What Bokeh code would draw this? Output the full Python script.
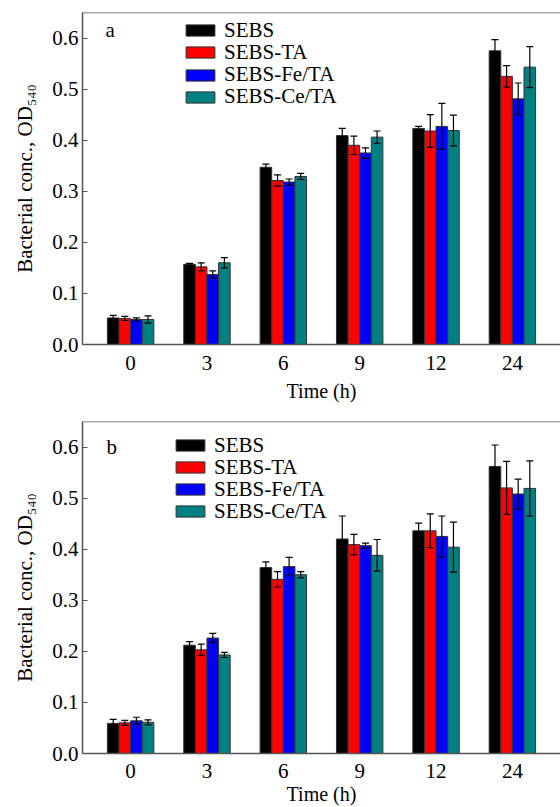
from bokeh.plotting import figure
from bokeh.models import (ColumnDataSource, FactorRange, Whisker, TeeHead, Legend,
                          LegendItem, Label, FixedTicker, PrintfTickFormatter, Range1d, Span)
from bokeh.transform import dodge
from bokeh.layouts import column
from bokeh.embed import file_html
from bokeh.resources import INLINE

# ---------------- data ----------------
times = ["0", "3", "6", "9", "12", "24"]
series = ["SEBS", "SEBS-TA", "SEBS-Fe/TA", "SEBS-Ce/TA"]
colors = ["#000000", "#ff0000", "#0000ff", "#008080"]
y_ticks = [0.0, 0.1, 0.2, 0.3, 0.4, 0.5, 0.6]
y_title = "Bacterial conc., OD\u2085\u2084\u2080"
x_title = "Time (h)"

# panel a
a_sebs = [0.052, 0.157, 0.347, 0.409, 0.423, 0.575]
a_sebs_err = [0.005, 0.002, 0.006, 0.014, 0.004, 0.022]
a_ta = [0.051, 0.152, 0.321, 0.390, 0.418, 0.525]
a_ta_err = [0.004, 0.008, 0.011, 0.018, 0.032, 0.021]
a_fe = [0.049, 0.137, 0.318, 0.375, 0.427, 0.481]
a_fe_err = [0.003, 0.007, 0.006, 0.010, 0.045, 0.031]
a_ce = [0.049, 0.160, 0.329, 0.406, 0.419, 0.543]
a_ce_err = [0.007, 0.010, 0.006, 0.012, 0.030, 0.040]

# panel b
b_sebs = [0.059, 0.212, 0.364, 0.420, 0.436, 0.562]
b_sebs_err = [0.008, 0.007, 0.011, 0.045, 0.015, 0.042]
b_ta = [0.060, 0.203, 0.341, 0.409, 0.436, 0.520]
b_ta_err = [0.005, 0.011, 0.015, 0.020, 0.033, 0.052]
b_fe = [0.064, 0.226, 0.366, 0.407, 0.425, 0.508]
b_fe_err = [0.007, 0.009, 0.018, 0.005, 0.040, 0.029]
b_ce = [0.061, 0.193, 0.350, 0.388, 0.404, 0.519]
b_ce_err = [0.005, 0.005, 0.006, 0.031, 0.049, 0.054]

FONT = "Liberation Serif"
AXIS_COLOR = "#555555"


def make_panel(letter, means, errs, height, top, bottom, legend_x, legend_top_bottom,
               legend_step, letter_xy, tick_standoff, label_standoff):
    p = figure(x_range=FactorRange(*times, range_padding=0.13, range_padding_units="absolute"),
               y_range=Range1d(0, 0.65), width=560, height=height,
               output_backend="svg", toolbar_location=None,
               min_border_left=82, min_border_right=0,
               min_border_top=top, min_border_bottom=bottom)
    p.outline_line_color = None
    p.grid.visible = False
    p.background_fill_color = "white"
    p.border_fill_color = "white"

    offsets = [-0.228, -0.076, 0.076, 0.228]
    bar_w = 0.152
    for i, (s, c, m, e, off) in enumerate(zip(series, colors, means, errs, offsets)):
        src = ColumnDataSource(dict(time=times, value=m,
                                    upper=[v + d for v, d in zip(m, e)],
                                    lower=[v - d for v, d in zip(m, e)]))
        r = p.vbar(x=dodge("time", off, range=p.x_range), top="value", width=bar_w,
                   source=src, fill_color=c, line_color="#333333", line_width=1)
        w = Whisker(base=dodge("time", off, range=p.x_range), upper="upper", lower="lower",
                    source=src, line_color="black", line_width=1.2, level="annotation",
                    upper_head=TeeHead(size=7, line_color="black", line_width=1.2),
                    lower_head=TeeHead(size=7, line_color="black", line_width=1.2))
        p.add_layout(w)
        # one legend per row so the row pitch can match the reference
        legend = Legend(items=[LegendItem(label=s, renderers=[r])],
                        location=(legend_x, legend_top_bottom - i * legend_step),
                        orientation="vertical",
                        glyph_width=36, glyph_height=14, label_height=20, label_standoff=6,
                        spacing=0, padding=0, margin=0, border_line_color=None,
                        background_fill_alpha=0, label_text_font=FONT,
                        label_text_font_size="21px", label_text_color="black")
        p.add_layout(legend)

    # x axis
    xa = p.xaxis[0]
    xa.axis_label = x_title
    xa.axis_label_text_font = FONT
    xa.axis_label_text_font_style = "normal"
    xa.axis_label_text_font_size = "20px"
    xa.axis_label_text_color = "black"
    xa.axis_label_standoff = label_standoff
    xa.major_label_text_font = FONT
    xa.major_label_text_font_size = "21px"
    xa.major_label_text_color = "black"
    xa.major_label_standoff = tick_standoff
    xa.major_tick_line_color = None
    xa.axis_line_color = AXIS_COLOR
    xa.axis_line_width = 1.5

    # y axis
    ya = p.yaxis[0]
    ya.ticker = FixedTicker(ticks=y_ticks)
    ya.formatter = PrintfTickFormatter(format="%.1f")
    ya.major_tick_in = 5
    ya.major_tick_out = 0
    ya.minor_tick_line_color = None
    ya.major_tick_line_color = AXIS_COLOR
    ya.major_label_standoff = 4
    ya.major_label_text_font = FONT
    ya.major_label_text_font_size = "21px"
    ya.major_label_text_color = "black"
    ya.axis_line_color = AXIS_COLOR
    ya.axis_line_width = 1.5
    ya.axis_label = y_title
    ya.axis_label_text_font = FONT
    ya.axis_label_text_font_style = "normal"
    ya.axis_label_text_font_size = "21px"
    ya.axis_label_text_color = "black"
    ya.axis_label_standoff = 12

    # top border
    p.add_layout(Span(location=0.65, dimension="width", line_color=AXIS_COLOR, line_width=1.5))

    # panel letter
    p.add_layout(Label(x=letter_xy[0], y=letter_xy[1], x_units="screen", y_units="data",
                       text=letter, text_font=FONT, text_font_size="21px",
                       text_color="black", text_align="left", text_baseline="alphabetic"))
    return p


pa = make_panel("a", [a_sebs, a_ta, a_fe, a_ce],
                [a_sebs_err, a_ta_err, a_fe_err, a_ce_err],
                height=409, top=12, bottom=65, legend_x=100, legend_top_bottom=301.5,
                legend_step=22.3, letter_xy=(23, 0.615), tick_standoff=5, label_standoff=7)
pb = make_panel("b", [b_sebs, b_ta, b_fe, b_ce],
                [b_sebs_err, b_ta_err, b_fe_err, b_ce_err],
                height=398, top=12, bottom=54, legend_x=90, legend_top_bottom=295.5,
                legend_step=22.0, letter_xy=(24, 0.600), tick_standoff=4, label_standoff=2)

layout = column(pa, pb)
open("out.html", "w").write(file_html(layout, INLINE))
